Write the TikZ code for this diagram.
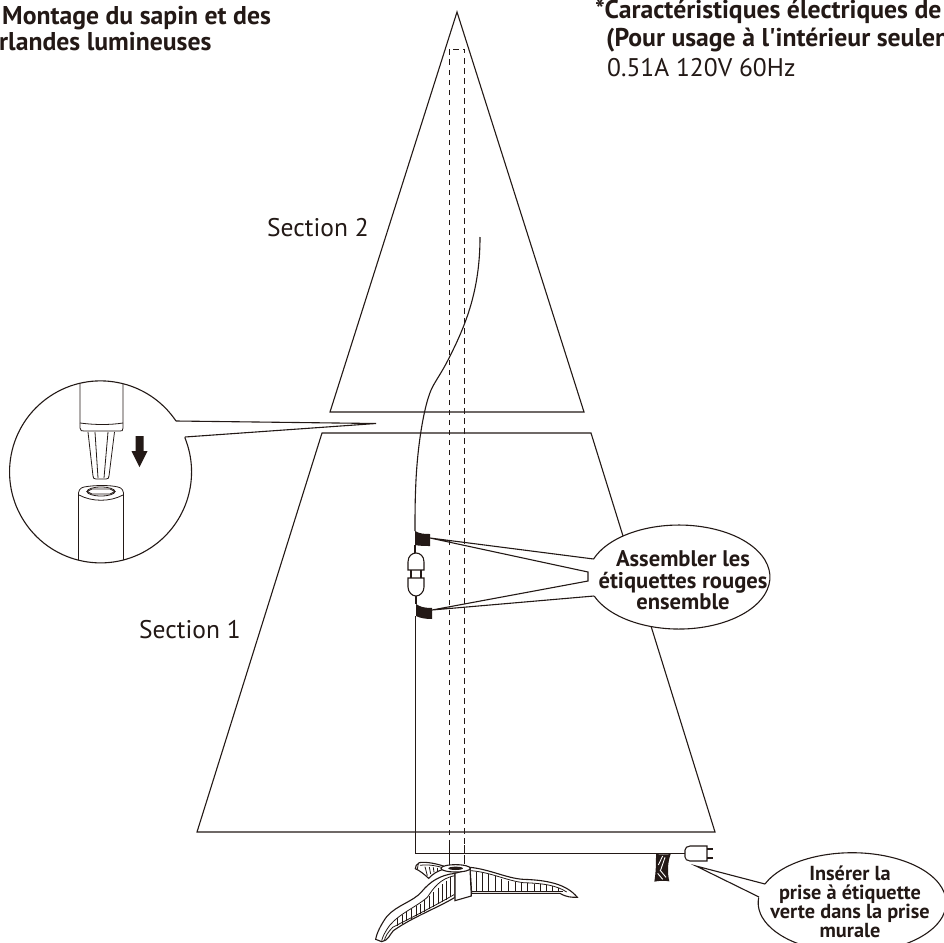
\documentclass[tikz,border=0pt]{standalone}
\usepackage{fontspec}
\defaultfontfeatures[\rmfamily]{}
\setmainfont{PT Sans}
\definecolor{ink}{RGB}{35,25,22}
\begin{document}
\begin{tikzpicture}[x=1pt,y=-1pt,
  ln/.style={line width=1.1pt,draw=ink,line join=miter},
  thin ln/.style={line width=0.8pt,draw=ink},
  dash ln/.style={line width=0.9pt,draw=ink,dash pattern=on 5.5pt off 4.5pt},
  txt/.style={inner sep=0pt,anchor=base west,font=\fontsize{25.5}{30}\selectfont,text=ink},
  btxt/.style={inner sep=0pt,anchor=base west,font=\fontsize{25.7}{30}\selectfont\bfseries,text=ink},
  ctxt/.style={inner sep=0pt,anchor=base,font=\fontsize{22.6}{26}\selectfont\bfseries,text=ink},
  dtxt/.style={inner sep=0pt,anchor=base,font=\fontsize{20.3}{23}\selectfont\bfseries,text=ink},
  blk/.style={fill=ink,draw=none}]
\useasboundingbox (0,0) rectangle (944,942);
\clip (0,0) rectangle (944,942);
\fill[white] (0,0) rectangle (944,942);

% tree sections
\draw[ln] (457,12) -- (584,412) -- (330,412) -- cycle;
\draw[ln] (322,433) -- (591,433) -- (715,832) -- (197,832) -- cycle;
% pole
\draw[dash ln] (449,865) -- (449,49) -- (464,49) -- (464,865);

% wire
\draw[ln] (480,237) .. controls (480,290) and (466,325) .. (448,360)
  .. controls (442,372) and (436,380) .. (432,388)
  .. controls (425,402) and (418,440) .. (416,480)
  .. controls (415,500) and (415,515) .. (415,531);
\path[blk] (415,531) .. controls (420,534) and (425,534) .. (430,534) -- (430,546)
  .. controls (425,546) and (420,546) .. (415,545) -- cycle;
\draw[ln] (415,545) -- (415,553);
% joined connector
\draw[ln] (408,570) -- (408,562) .. controls (408,556) and (412,553) .. (416,553)
  .. controls (420,553) and (424,556) .. (424,562) -- (424,570) -- cycle;
\draw[ln] (411,570) -- (411,578) (421,570) -- (421,578);
\draw[ln] (408,578) -- (424,578) -- (424,587) .. controls (424,592) and (420,596) .. (416,596)
  .. controls (412,596) and (408,592) .. (408,587) -- cycle;
\draw[ln] (416,596) -- (416,604);
\path[blk] (416,604) .. controls (420,607) and (425,608) .. (432,608) -- (432,619)
  .. controls (425,619) and (420,618) .. (416,616) -- cycle;
\draw[line width=0.95pt,draw=ink] (415.6,616) -- (415.6,853.4) -- (685,853.4);

% plug
\draw[ln] (690,846) -- (707,846) -- (707,861) -- (690,861)
  .. controls (687,861) and (685,859) .. (685,857) -- (685,850)
  .. controls (685,848) and (687,846) .. (690,846) -- cycle;
\draw[ln] (707,849) -- (713,849) (707,858) -- (713,858);

% hanging tag
\begin{scope}[shift={(620,820)},x=0.3333pt,y=-0.3333pt]
\fill[ink] (108,102) .. controls (125,104) and (140,104) .. (152,102)
  .. controls (142,130) and (142,160) .. (148,184) .. controls (132,181) and (118,182) .. (103,185)
  .. controls (108,155) and (108,130) .. (108,102) -- cycle;
\draw[white,line width=0.9pt] (128,108) -- (115,135) (135,112) -- (122,150) (120,150) -- (138,172) (113,160) -- (128,178);
\end{scope}

% base
\begin{scope}[shift={(340,810)},x=0.3333pt,y=-0.3333pt]
 % right leg
 \draw[ln,fill=white] (390,172) .. controls (450,178) and (500,205) .. (550,208)
   .. controls (620,210) and (680,222) .. (712,262) .. controls (695,262) and (680,262) .. (660,250)
   -- (395,250) -- cycle;
 \draw[thin ln] (392,182) .. controls (450,186) and (500,212) .. (550,218)
   .. controls (610,220) and (650,226) .. (680,246);
 \draw[thin ln] (395,244) -- (668,244);
 \foreach \xa/\ya in {410/186,428/188,446/192,466/199,485/206,505/212,525/217,545/218,563/220,582/221,600/222,618/225,637/229,655/233}
   \draw[thin ln] (\xa,\ya) -- (\xa,246);
 % back left leg
 \draw[ln,fill=white] (310,168) .. controls (280,158) and (250,155) .. (238,158)
   .. controls (230,162) and (225,170) .. (226,176) .. controls (240,182) and (255,195) .. (266,205)
   .. controls (280,190) and (295,182) .. (310,178) -- cycle;
 \draw[thin ln] (305,172) .. controls (280,165) and (255,163) .. (240,166) (235,160) -- (232,178);
 \foreach \xa/\ya/\xb/\yb in {255/170/262/197,268/171/272/192,280/172/282/187,292/173/292/182}
   \draw[thin ln] (\xa,\ya) -- (\xb,\yb);
 % front left leg
 \draw[ln,fill=white] (345,190) .. controls (300,195) and (270,215) .. (245,245)
   .. controls (220,275) and (170,285) .. (140,320) .. controls (122,345) and (110,370) .. (107,388)
   -- (125,395) .. controls (145,392) and (148,375) .. (160,362)
   .. controls (220,320) and (290,295) .. (345,262) -- cycle;
 \draw[thin ln] (345,197) .. controls (300,205) and (280,235) .. (262,262)
   .. controls (230,290) and (180,310) .. (150,345) .. controls (135,365) and (128,380) .. (125,392);
 \draw[thin ln] (342,254) .. controls (280,290) and (210,325) .. (158,352) .. controls (145,365) and (135,380) .. (133,392);
 \foreach \xa/\ya/\xb/\yb in {331/202/331/262,318/212/318/269,306/222/306/276,294/233/294/283,281/246/281/290,268/259/268/297,254/271/254/305,241/281/241/312,228/289/228/319,214/298/214/326,200/306/200/334,186/314/186/341,172/324/172/348}
   \draw[thin ln] (\xa,\ya) -- (\xb,\yb);
 % hub
 \draw[ln,fill=white] (345,190) -- (390,177) -- (394,258) -- (345,272) -- cycle;
 \draw[ln,fill=white] (347,175) ellipse (44 and 11);
 \fill[ink] (347,175) ellipse (22 and 5);
\end{scope}
\draw[dash ln] (449,845) -- (449,865);
\draw[dash ln] (464,845) -- (464,865);

% detail circle
\draw[ln] (176,421) arc[start angle=-34,end angle=-382.3,radius=91];
\draw[ln] (176,421) -- (376,423.5) -- (185,437);
% upper tube
\draw[thin ln] (80,384) -- (80,428) .. controls (80,431) and (82,431) .. (84,431)
  -- (120,431) .. controls (122,431) and (123,431) .. (123,428) -- (123,384);
\draw[thin ln] (80,423) .. controls (95,425) and (110,425) .. (123,423);
% peg
\draw[thin ln] (88,432) -- (93,476) .. controls (93,478) and (94,479) .. (96,479)
  -- (106,479) .. controls (108,479) and (109,478) .. (109,476) -- (114.5,432);
\draw[thin ln] (95,432) -- (98,478) (108,432) -- (104,478);
% arrow
\fill[ink] (135.5,436) -- (143.5,436) -- (143.5,451) -- (147.5,451) -- (139.5,467) -- (131.5,451) -- (135.5,451) -- cycle;
% lower tube
\draw[thin ln] (78.5,560) -- (78.5,497) .. controls (78,490) and (80,488) .. (84,487)
  .. controls (95,485) and (110,485) .. (118,487) .. controls (122,488) and (124,490) .. (123.5,497) -- (123.5,560);
\draw[thin ln] (79,495) .. controls (92,502) and (110,502) .. (123,495);
\draw[thin ln] (101,491.5) ellipse (14 and 4.5);
\draw[thin ln] (92,489) -- (110,489) -- (115,491.5) -- (110,494) -- (92,494) -- (87,491.5) -- cycle;

% callout 1
\fill[white] (679,577) ellipse (91 and 52);
\draw[ln] (593.6,559) arc[start angle=-159.7,end angle=158.6,x radius=91,y radius=52];
\coordinate (t1) at (430,538);
\coordinate (t2) at (432,610);
\draw[ln] (593.6,559) -- (t1) -- (588,572) -- (588,581) -- (t2) -- (594,596);
\node[ctxt] (c1a) at (683,566) {Assembler les};
\node[ctxt] (c1b) at (683,588) {étiquettes rouges};
\node[ctxt] (c1c) at (683,609) {ensemble};

% callout 2
\coordinate (t3) at (696,866);
\draw[ln] (765,884) arc[start angle=-158,end angle=186,x radius=94,y radius=50];
\draw[ln] (765,884) -- (t3) -- (759,897);
\node[dtxt] (c2a) at (850,880) {Insérer la};
\node[dtxt] (c2b) at (850,899) {prise à étiquette};
\node[dtxt] (c2c) at (850,918) {verte dans la prise};
\node[dtxt] (c2d) at (850,937) {murale};

% labels
\node[txt] (s2) at (267,236) {Section 2};
\node[txt] (s1) at (139,638) {Section 1};
\node[btxt] (h1) at (2,25) {Montage du sapin et des};
\node[btxt] (h2) at (-1,51) {rlandes lumineuses};
\node[btxt] (r1) at (595,19) {*Caractéristiques électriques de};
\node[btxt] (r2) at (606,46) {(Pour usage à l'intérieur seulen};
\node[txt] (r3) at (607,76) {0.51A 120V 60Hz};
\end{tikzpicture}
\end{document}
